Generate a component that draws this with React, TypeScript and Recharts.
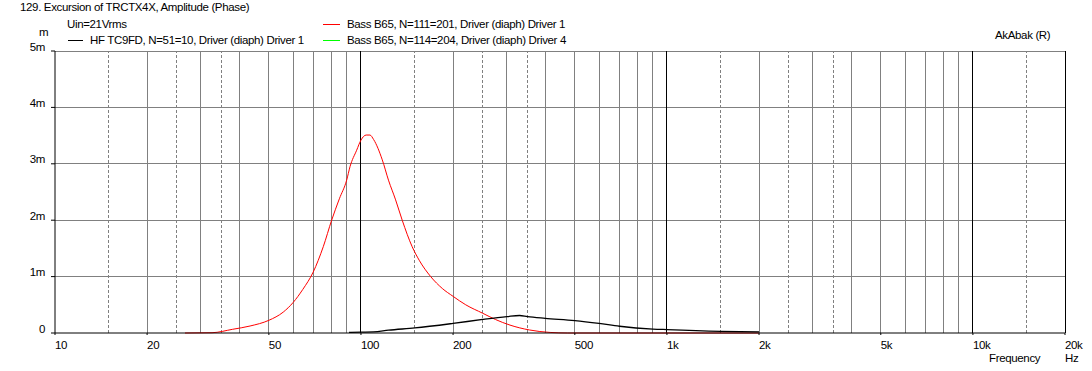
import React from "react";
import { LineChart, Line, XAxis, YAxis, ReferenceLine } from "recharts";

const FONT = "'Liberation Sans', Arial, sans-serif";
const FS = 11.5;
const LS = -0.35;

const xTicks = [10, 20, 50, 100, 200, 500, 1000, 2000, 5000, 10000, 20000];
const xTickLabels = ["10", "20", "50", "100", "200", "500", "1k", "2k", "5k", "10k", "20k"];
const yTicks = [0, 1, 2, 3, 4, 5];
const yTickLabels = ["0", "1m", "2m", "3m", "4m", "5m"];

const solidGrid = [20, 30, 40, 50, 60, 70, 80, 90, 200, 300, 400, 500, 600, 700, 800, 900, 2000, 3000, 4000, 5000, 6000, 7000, 8000, 9000];
const dashedGrid = [15, 25, 35, 150, 250, 350, 1500, 2500, 3500, 15000];
const decadeLines = [100, 1000, 10000, 20000];
const hGrid = [1, 2, 3, 4, 5];

const bassFreq = [26.6, 32.6, 38, 43.4, 50, 55.7, 60, 64.5, 69.8, 75.3, 80.2, 85, 89.8, 92.1, 96.8, 100, 104, 107, 110, 117.4, 123, 129.8, 136.4, 147, 155, 169, 184.4, 200, 220, 250, 275, 307, 356, 415, 474, 1000, 2000];
const bassExc = [0, 0.005, 0.065, 0.124, 0.225, 0.37, 0.54, 0.77, 1.08, 1.53, 2.0, 2.38, 2.71, 2.95, 3.24, 3.42, 3.51, 3.51, 3.43, 3.07, 2.71, 2.36, 2.0, 1.53, 1.29, 1.0, 0.79, 0.65, 0.5, 0.35, 0.24, 0.14, 0.053, 0.01, 0, 0, 0];

const hfFreq = [91.4, 100, 110, 123, 150, 200, 250, 300, 330, 350, 400, 500, 600, 700, 900, 1000, 1500, 2000];
const hfExc = [0.01, 0.015, 0.02, 0.05, 0.09, 0.17, 0.24, 0.29, 0.31, 0.29, 0.26, 0.22, 0.17, 0.12, 0.07, 0.06, 0.03, 0.02];

const bassData = bassFreq.map((f, i) => ({ f, v: bassExc[i] }));
const hfData = hfFreq.map((f, i) => ({ f, v: hfExc[i] }));

const XTick = (props: any) => {
  const { x, payload } = props;
  const idx = xTicks.indexOf(payload.value);
  return (
    <text x={x} y={349} textAnchor="start" fontSize={FS} letterSpacing={LS} fontFamily={FONT} fill="#000">
      {idx >= 0 ? xTickLabels[idx] : ""}
    </text>
  );
};

const YTick = (props: any) => {
  const { y, payload } = props;
  const idx = yTicks.indexOf(payload.value);
  return (
    <text x={45} y={y - 0.5} textAnchor="end" fontSize={FS} letterSpacing={LS} fontFamily={FONT} fill="#000">
      {idx >= 0 ? yTickLabels[idx] : ""}
    </text>
  );
};

export default function App() {
  return (
    <div style={{ position: "absolute", left: 0, top: 0, width: 1092, height: 371, background: "#fff" }}>
      <LineChart
        width={1092}
        height={371}
        margin={{ top: 51, right: 27, bottom: 8, left: 15 }}
        style={{ position: "absolute", left: 0, top: 0 }}
      >
        <XAxis
          dataKey="f"
          type="number"
          scale="log"
          domain={[10, 20000]}
          ticks={xTicks}
          allowDataOverflow
          height={30}
          axisLine={{ stroke: "#000", strokeWidth: 1 }}
          tickLine={{ stroke: "#000" }}
          tickSize={2}
          tick={<XTick />}
          interval={0}
        />
        <YAxis
          type="number"
          domain={[0, 5]}
          ticks={yTicks}
          width={40}
          axisLine={{ stroke: "#000", strokeWidth: 1 }}
          tickLine={{ stroke: "#000" }}
          tickSize={4}
          tick={<YTick />}
          interval={0}
        />
        {hGrid.map((v) => (
          <ReferenceLine key={"h" + v} y={v} stroke="#808080" strokeWidth={1} shapeRendering="crispEdges" />
        ))}
        {solidGrid.map((v) => (
          <ReferenceLine key={"s" + v} x={v} stroke="#808080" strokeWidth={1} shapeRendering="crispEdges" />
        ))}
        {dashedGrid.map((v) => (
          <ReferenceLine key={"d" + v} x={v} stroke="#808080" strokeWidth={1} strokeDasharray="3 2" shapeRendering="crispEdges" />
        ))}
        {decadeLines.map((v) => (
          <ReferenceLine key={"k" + v} x={v} stroke="#000" strokeWidth={1} shapeRendering="crispEdges" />
        ))}
        <Line
          data={bassData}
          dataKey="v"
          type="monotone"
          stroke="#ff0000"
          strokeWidth={1}
          dot={false}
          activeDot={false}
          isAnimationActive={false}
        />
        <Line
          data={hfData}
          dataKey="v"
          type="monotone"
          stroke="#000000"
          strokeWidth={1.3}
          dot={false}
          activeDot={false}
          isAnimationActive={false}
        />
      </LineChart>
      <svg
        width={1092}
        height={371}
        style={{ position: "absolute", left: 0, top: 0, pointerEvents: "none" }}
        fontFamily={FONT}
        fontSize={FS}
        letterSpacing={LS}
      >
        <text x={20} y={11}>129. Excursion of TRCTX4X, Amplitude (Phase)</text>
        <text x={67} y={28}>Uin=21Vrms</text>
        <text x={39} y={36}>m</text>
        <line x1={68} x2={83} y1={40.5} y2={40.5} stroke="#000" strokeWidth={1} />
        <text x={90} y={44}>HF TC9FD, N=51=10, Driver (diaph) Driver 1</text>
        <line x1={323} x2={340} y1={24.5} y2={24.5} stroke="#ff0000" strokeWidth={1} />
        <text x={347} y={28}>Bass B65, N=111=201, Driver (diaph) Driver 1</text>
        <line x1={323} x2={340} y1={40.5} y2={40.5} stroke="#00ff00" strokeWidth={1} />
        <text x={347} y={44}>Bass B65, N=114=204, Driver (diaph) Driver 4</text>
        <text x={995} y={39}>AkAbak (R)</text>
        <text x={989} y={362}>Frequency</text>
        <text x={1065} y={362}>Hz</text>
      </svg>
    </div>
  );
}
